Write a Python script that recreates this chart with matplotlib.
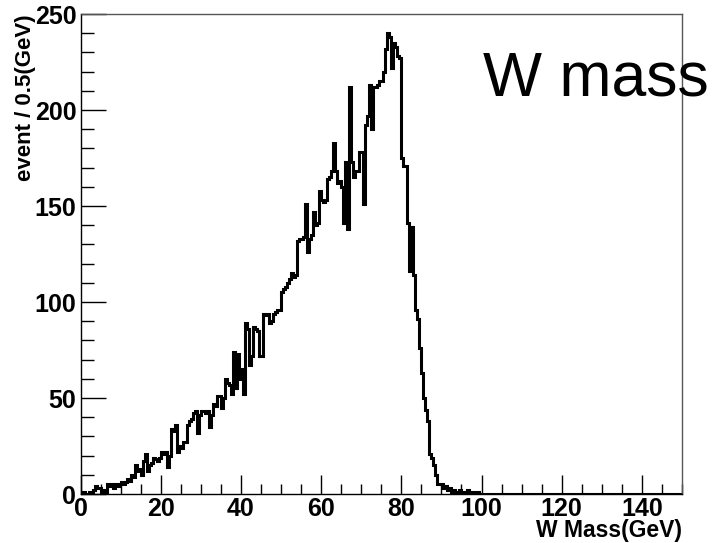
import numpy as np
import matplotlib
matplotlib.use('Agg')
import matplotlib.pyplot as plt
from matplotlib.ticker import MultipleLocator

plt.rcParams['font.family'] = ['Liberation Sans', 'DejaVu Sans']

# W mass histogram, 0.5 GeV bins, counts (0 - 100 GeV)
bin_width = 0.5
x_min, x_max = 0, 150
counts_low = [
    1, 1, 0, 0, 1, 0, 2, 4, 3, 3,
    1, 2, 1, 5, 4, 5, 3, 5, 4, 5,
    6, 5, 6, 8, 7, 10, 9, 15, 12, 13,
    10, 17, 21, 12, 15, 16, 19, 18, 17, 19,
    22, 21, 22, 14, 20, 34, 33, 36, 22, 25,
    24, 27, 27, 36, 38, 39, 42, 43, 32, 41,
    43, 43, 42, 43, 35, 41, 47, 46, 51, 51,
    45, 50, 60, 58, 57, 52, 74, 55, 73, 60,
    65, 52, 89, 86, 67, 72, 87, 86, 85, 72,
    72, 94, 93, 94, 89, 90, 94, 95, 96, 96,
    105, 107, 108, 110, 112, 115, 113, 114, 132, 133,
    133, 134, 151, 126, 133, 135, 147, 140, 141, 158,
    153, 152, 153, 164, 165, 168, 183, 168, 162, 163,
    160, 141, 173, 138, 212, 173, 165, 168, 168, 178,
    178, 151, 192, 197, 213, 190, 212, 212, 213, 215,
    215, 220, 232, 240, 238, 222, 235, 233, 228, 227,
    175, 171, 171, 141, 116, 139, 114, 96, 91, 76,
    63, 50, 44, 38, 21, 19, 15, 10, 5, 5,
    5, 3, 4, 2, 3, 1, 2, 1, 1, 2,
    1, 0, 1, 2, 0, 1, 1, 0, 1, 0,
]
# nothing above 100 GeV
n_bins = int((x_max - x_min) / bin_width)
counts = np.array(counts_low + [0] * (n_bins - len(counts_low)), dtype=float)
edges = np.linspace(x_min, x_max, n_bins + 1)

fig = plt.figure(figsize=(7.28, 5.43), dpi=100)
ax = fig.add_axes([80.5 / 728, 1 - 494 / 543, (682 - 80.5) / 728, (494 - 14) / 543])

ax.stairs(counts, edges, color='black', linewidth=2.2, baseline=None)

ax.set_xlim(x_min, x_max)
ax.set_ylim(0, 250)

ax.xaxis.set_major_locator(MultipleLocator(20))
ax.xaxis.set_minor_locator(MultipleLocator(5))
ax.yaxis.set_major_locator(MultipleLocator(50))
ax.yaxis.set_minor_locator(MultipleLocator(10))

ax.tick_params(axis='both', which='both', direction='in', top=False, right=False,
               width=1, labelsize=18)
ax.tick_params(axis='x', which='major', length=14, pad=2)
ax.tick_params(axis='x', which='minor', length=7)
ax.tick_params(axis='y', which='major', length=18, pad=3)
ax.tick_params(axis='y', which='minor', length=9)
for lab in ax.get_xticklabels() + ax.get_yticklabels():
    lab.set_fontweight('bold')

for s in ax.spines.values():
    s.set_linewidth(1)
ax.spines['top'].set_color('#555555')
ax.spines['right'].set_color('#555555')

fig.text(682 / 728, 1 - 537 / 543, 'W Mass(GeV)', ha='right', va='baseline',
         fontsize=16.5, fontweight='bold')
fig.text(25 / 728, 1 - 14 / 543, 'event / 0.5(GeV)', ha='center', va='top',
         rotation=90, fontsize=16, fontweight='bold')
fig.text(483 / 728, 1 - 95 / 543, 'W mass', ha='left', va='baseline',
         fontsize=45)

fig.savefig('out.png', dpi=100)
